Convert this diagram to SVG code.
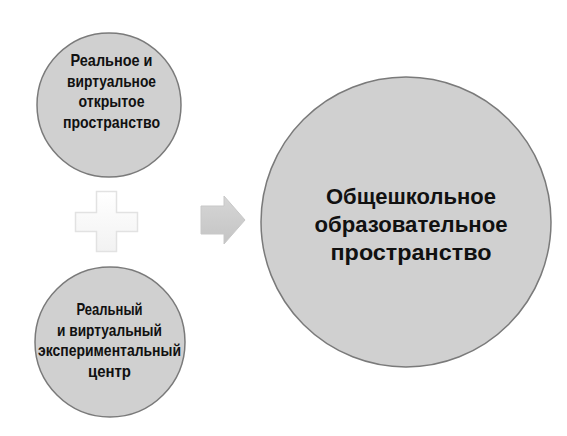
<svg xmlns="http://www.w3.org/2000/svg" width="567" height="436" viewBox="0 0 567 436">
<style>
.node circle{fill:#d0d0d0;stroke:#7a7a7a;stroke-width:1.5}
.t{font-family:"Liberation Sans",Arial,sans-serif;font-weight:bold;fill:#111;text-anchor:middle}
.s{font-size:17px}
.b{font-size:22px}
</style>
<defs>
<linearGradient id="ag" x1="0" y1="0" x2="0" y2="1">
<stop offset="0" stop-color="#d6d6d6"/>
<stop offset="1" stop-color="#c4c4c4"/>
</linearGradient>
<linearGradient id="pg" x1="0" y1="0" x2="0" y2="1">
<stop offset="0" stop-color="#ffffff"/>
<stop offset="1" stop-color="#f2f2f2"/>
</linearGradient>
</defs>
<rect width="567" height="436" fill="#ffffff"/>
<g id="connectors">
<path d="M96.5 191.5 H116.5 V212.5 H137.5 V231.5 H116.5 V251.5 H96.5 V231.5 H75.5 V212.5 H96.5 Z" fill="url(#pg)" stroke="#e2e2e2" stroke-width="1.5"/>
<path d="M201 206 H224 V196 L245 220 L224 244 V234 H201 Z" fill="url(#ag)" stroke="#c8c8c8" stroke-width="1"/>
</g>
<g id="node-top" class="node">
<circle cx="109" cy="105" r="72"/>
<text class="t s" x="111.5" y="66" textLength="82" lengthAdjust="spacingAndGlyphs">Реальное и</text>
<text class="t s" x="111.5" y="86.5" textLength="89" lengthAdjust="spacingAndGlyphs">виртуальное</text>
<text class="t s" x="111.5" y="107" textLength="66" lengthAdjust="spacingAndGlyphs">открытое</text>
<text class="t s" x="111.5" y="127.5" textLength="97" lengthAdjust="spacingAndGlyphs">пространство</text>
</g>
<g id="node-bottom" class="node">
<circle cx="110" cy="342" r="75"/>
<text class="t s" x="109.5" y="315" textLength="66" lengthAdjust="spacingAndGlyphs">Реальный</text>
<text class="t s" x="109.5" y="335.5" textLength="105" lengthAdjust="spacingAndGlyphs">и виртуальный</text>
<text class="t s" x="109.5" y="356" textLength="143" lengthAdjust="spacingAndGlyphs">экспериментальный</text>
<text class="t s" x="109.5" y="376.5" textLength="43" lengthAdjust="spacingAndGlyphs">центр</text>
</g>
<g id="node-main" class="node">
<circle cx="406" cy="222" r="145"/>
<text class="t b" x="411" y="203.5" textLength="170" lengthAdjust="spacingAndGlyphs">Общешкольное</text>
<text class="t b" x="411" y="231.5" textLength="193" lengthAdjust="spacingAndGlyphs">образовательное</text>
<text class="t b" x="411" y="260" textLength="161" lengthAdjust="spacingAndGlyphs">пространство</text>
</g>
</svg>
